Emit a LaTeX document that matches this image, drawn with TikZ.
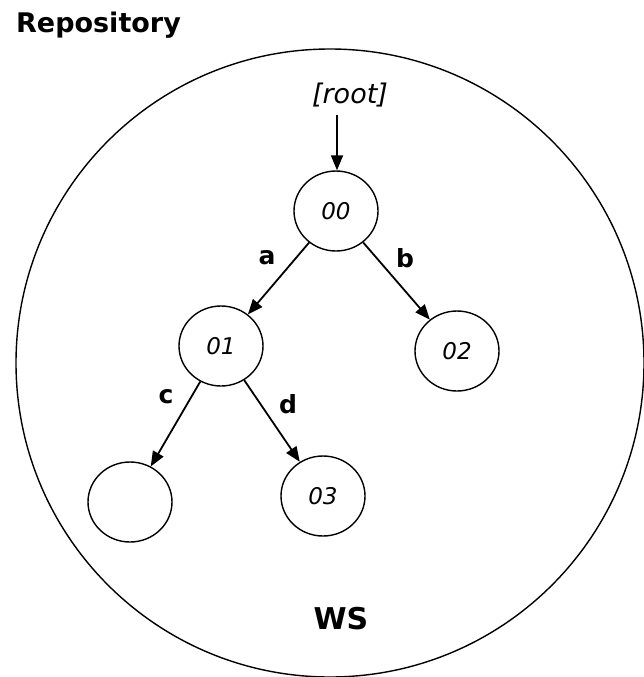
\documentclass[tikz,border=0pt]{standalone}
\usepackage{fontspec}
\setmainfont{DejaVu Sans}
\usetikzlibrary{arrows.meta,shapes.geometric}
\begin{document}
\begin{tikzpicture}[x=1pt,y=-1pt,
  state/.style={draw,ellipse,line width=1.4pt,minimum width=84pt,minimum height=80pt,inner sep=0pt,
    font=\fontsize{23}{23}\selectfont\itshape},
  edge/.style={line width=1.8pt,-{Triangle[length=15pt,width=12pt]}},
  elabel/.style={font=\fontsize{25}{25}\selectfont\bfseries}]
\useasboundingbox (0,0) rectangle (644,677);
% repository boundary
\draw[line width=1.4pt] (330,363) circle [radius=314];
\node[anchor=base west,inner sep=0pt,font=\fontsize{27}{27}\selectfont\bfseries] (repo) at (16,33) {Repository};
\node[font=\fontsize{30}{30}\selectfont\bfseries] (ws) at (341,619) {WS};
% revision tree
\node[font=\fontsize{27}{27}\selectfont\itshape,inner sep=0pt] (root) at (350,95) {[root]};
\coordinate (rootfoot) at (337,115);
\node[state] (n00) at (336,211) {00};
\node[state] (n01) at (221,346) {01};
\node[state] (n02) at (457,351) {02};
\node[state] (n03) at (323,496) {03};
\node[state] (nx)  at (130,502) {};
\draw[edge] (rootfoot) -- (n00.north -| rootfoot);
\draw[edge] (n00) -- (n01);
\draw[edge] (n00) -- (n02);
\draw[edge] (n01) -- (nx);
\draw[edge] (n01) -- (n03);
\node[elabel] (la) at (267,258) {a};
\node[elabel] (lb) at (405,258) {b};
\node[elabel] (lc) at (166,397) {c};
\node[elabel] (ld) at (288,404) {d};
\end{tikzpicture}
\end{document}
